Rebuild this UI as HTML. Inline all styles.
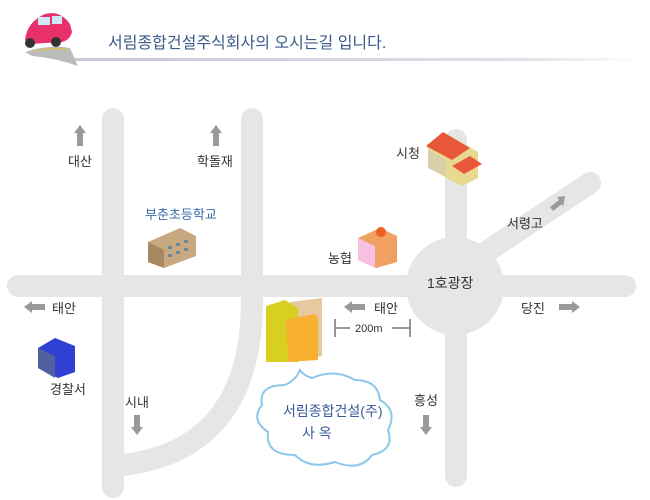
<!DOCTYPE html>
<html><head><meta charset="utf-8"><style>
html,body{margin:0;padding:0;background:#fff;}
svg{display:block;font-family:"Liberation Sans","Noto Sans CJK KR",sans-serif;}
</style></head><body>
<svg width="650" height="500" viewBox="0 0 650 500" xmlns="http://www.w3.org/2000/svg">
<defs>
<linearGradient id="hl" x1="0" x2="1"><stop offset="0" stop-color="#c8c8d4"/><stop offset="0.8" stop-color="#e0e0e8"/><stop offset="1" stop-color="#fff"/></linearGradient>
</defs>
<!-- header -->
<rect x="70" y="58" width="570" height="3" fill="url(#hl)"/>
<path d="M25,52 Q50,44 70,48 L78,66 Q55,58 32,56 Z" fill="#bbb"/>
<path d="M34,52 Q52,46 68,50" stroke="#e8c23a" stroke-width="1" fill="none"/>
<path d="M25,40 Q27,22 45,14 Q60,10 70,24 L72,32 Q70,40 62,42 L30,44 Z" fill="#e8306a"/>
<rect x="38" y="17" width="12" height="8" fill="#cfe8f8"/><rect x="52" y="16" width="10" height="8" fill="#cfe8f8"/>
<circle cx="30" cy="43" r="5" fill="#333"/><circle cx="56" cy="42" r="5" fill="#333"/>
<text x="108" y="48" font-size="16" fill="#3a5a88">서림종합건설주식회사의 오시는길 입니다.</text>
<!-- roads -->
<g stroke="#e6e6e6" stroke-width="22" fill="none" stroke-linecap="round">
<line x1="113" y1="119" x2="113" y2="487"/>
<path d="M252,119 L252,300 Q252,455 113,466"/>
<line x1="18" y1="286" x2="625" y2="286"/>
<line x1="456" y1="140" x2="456" y2="476"/>
<line x1="456" y1="272" x2="590" y2="183"/>
</g>
<circle cx="455" cy="286" r="49" fill="#e6e6e6"/>
<!-- arrows -->
<g fill="#999">
<path d="M80,125 L86,133 L83,133 L83,146 L77,146 L77,133 L74,133 Z"/>
<path d="M216,125 L222,133 L219,133 L219,146 L213,146 L213,133 L210,133 Z"/>
<path d="M24,307 L32,301 L32,304 L45,304 L45,310 L32,310 L32,313 Z"/>
<path d="M344,307 L352,301 L352,304 L365,304 L365,310 L352,310 L352,313 Z"/>
<path d="M580,307 L572,301 L572,304 L559,304 L559,310 L572,310 L572,313 Z"/>
<path d="M137,435 L143,427 L140,427 L140,415 L134,415 L134,427 L131,427 Z"/>
<path d="M426,435 L432,427 L429,427 L429,415 L423,415 L423,427 L420,427 Z"/>
<path d="M565,196 L557,197 L559,200 L550,207 L553,211 L562,204 L563,207 Z"/>
</g>
<!-- 200m -->
<g stroke="#777" stroke-width="1.5"><line x1="335" y1="319" x2="335" y2="337"/><line x1="410" y1="319" x2="410" y2="337"/><line x1="335" y1="328" x2="350" y2="328"/><line x1="392" y1="328" x2="410" y2="328"/></g>
<text x="355" y="332" font-size="11" fill="#333">200m</text>
<!-- labels -->
<g font-size="13" fill="#333">
<text x="68" y="166">대산</text>
<text x="197" y="166">학돌재</text>
<text x="396" y="158">시청</text>
<text x="507" y="228">서령고</text>
<text x="328" y="263">농협</text>
<text x="427" y="288" font-size="14">1호광장</text>
<text x="52" y="313">태안</text>
<text x="374" y="313">태안</text>
<text x="521" y="313">당진</text>
<text x="50" y="394">경찰서</text>
<text x="125" y="407">시내</text>
<text x="414" y="405">흥성</text>
</g>
<text x="145" y="219" font-size="13" fill="#3a6aa8">부춘초등학교</text>
<!-- school -->
<path d="M148,242 L180,228 L196,236 L196,256 L164,268 L148,262 Z" fill="#c8a880"/>
<path d="M148,242 L164,250 L164,268 L148,262 Z" fill="#a88860"/>
<g fill="#6a8aa0"><rect x="168" y="246" width="4" height="3"/><rect x="176" y="243" width="4" height="3"/><rect x="184" y="240" width="4" height="3"/><rect x="168" y="254" width="4" height="3"/><rect x="176" y="251" width="4" height="3"/><rect x="184" y="248" width="4" height="3"/></g>
<!-- city hall -->
<path d="M428,144 L445,133 L478,152 L478,178 L462,186 L428,168 Z" fill="#e8d890"/>
<path d="M428,150 L446,160 L446,176 L428,168 Z" fill="#d8d0a8"/>
<path d="M426,146 L443,132 L470,148 L452,160 Z" fill="#e85838"/>
<path d="M452,166 L470,156 L482,164 L464,174 Z" fill="#e85838"/>
<!-- bank -->
<path d="M358,238 L380,228 L397,236 L397,262 L376,268 L358,260 Z" fill="#f0a060"/>
<path d="M358,238 L375,246 L375,268 L358,260 Z" fill="#f8c0e0"/>
<circle cx="381" cy="232" r="5" fill="#f06020"/>
<!-- police -->
<path d="M38,348 L55,338 L75,346 L75,372 L58,378 L38,368 Z" fill="#3040d0"/>
<path d="M38,348 L55,356 L55,378 L38,368 Z" fill="#5060a0"/>
<!-- HQ building -->
<path d="M290,302 L322,298 L322,356 L300,360 Z" fill="#e8c8a0"/>
<path d="M266,306 L285,300 L298,308 L298,362 L266,362 Z" fill="#d8d020"/>
<path d="M286,320 L314,314 L318,318 L318,360 L288,362 Z" fill="#f8b030"/>
<!-- cloud -->
<path d="M300,370 Q296,380 285,385 Q258,385 262,405 Q250,420 268,432 Q265,455 295,455 Q310,470 335,462 Q360,472 372,455 Q395,450 388,430 Q398,410 380,400 Q378,380 355,380 Q335,368 312,378 Q304,376 300,370 Z" fill="#fff" stroke="#8cc8e8" stroke-width="2"/>
<text x="283" y="416" font-size="14" fill="#3a5a9a">서림종합건설(주)</text>
<text x="302" y="438" font-size="14" fill="#3a5a9a">사 옥</text>
</svg>
</body></html>
